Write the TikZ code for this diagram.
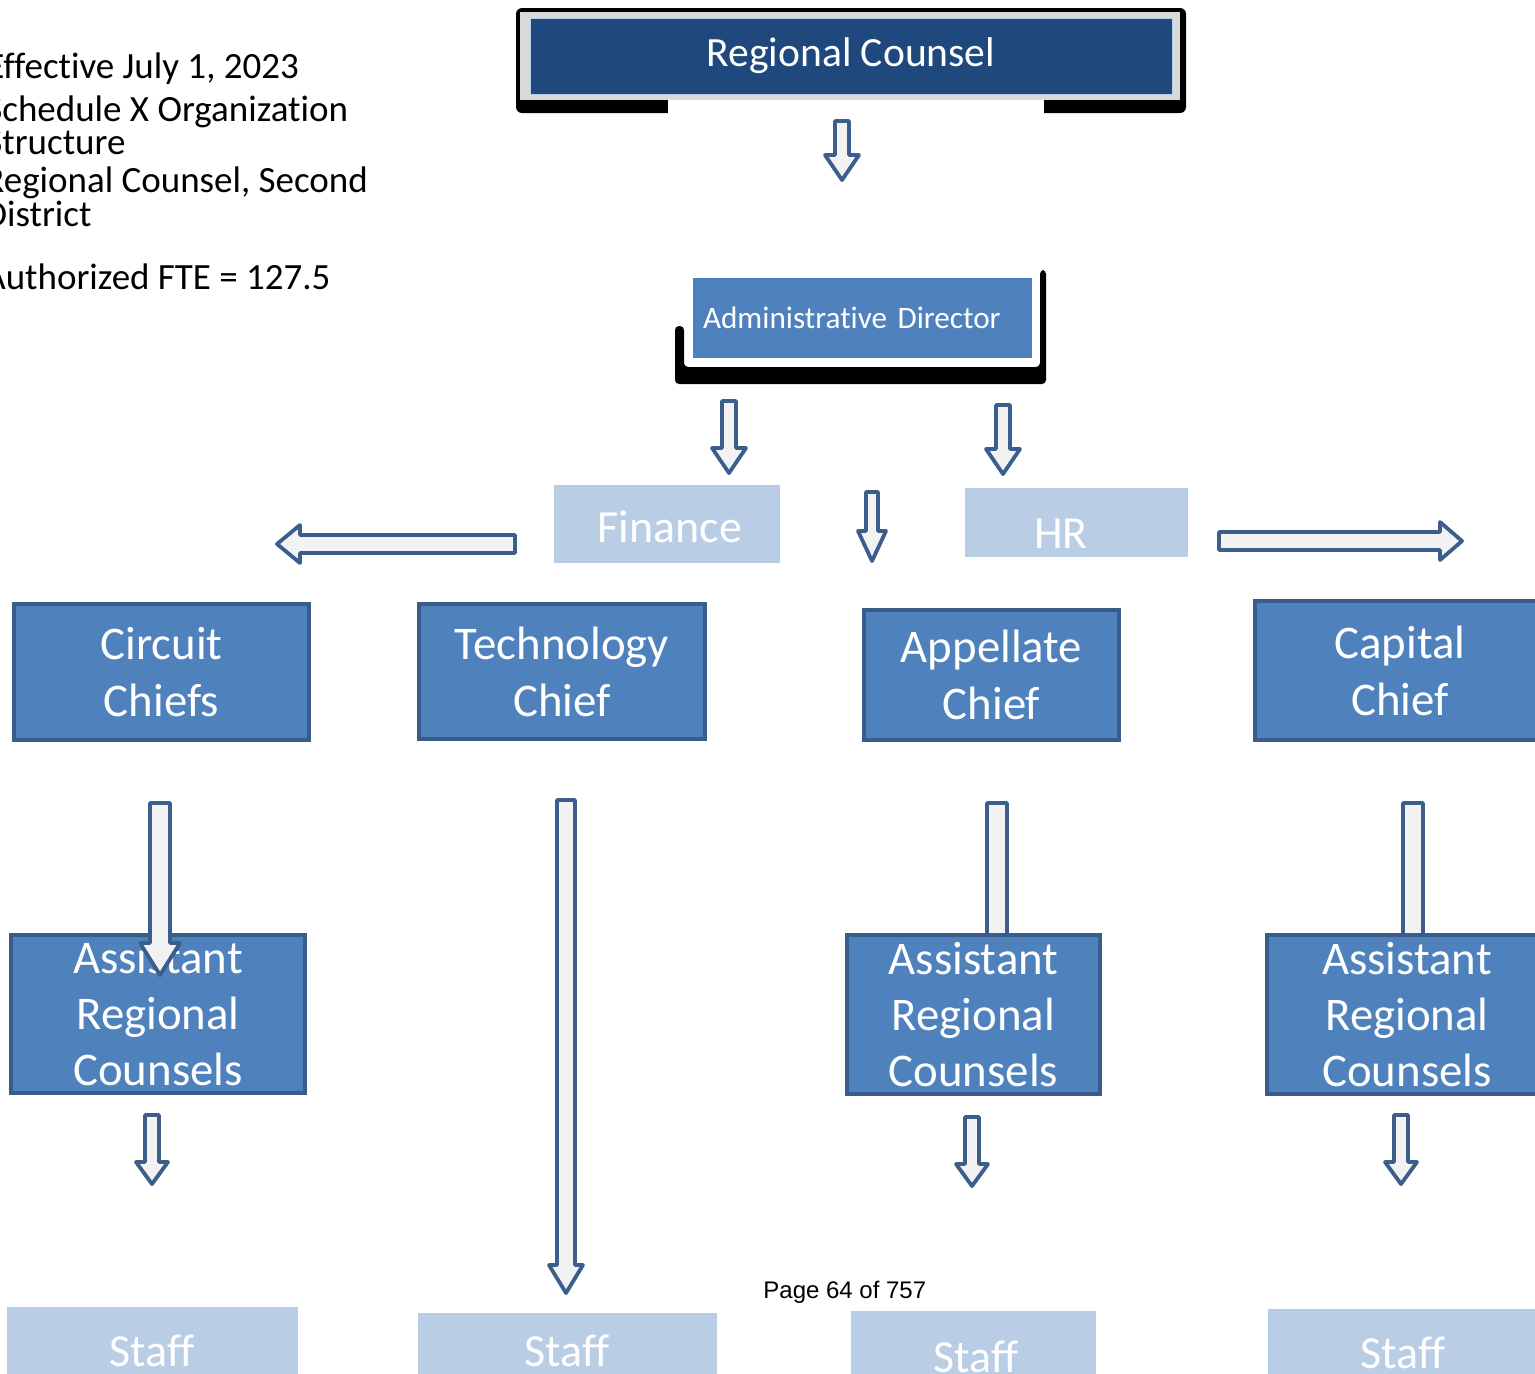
\documentclass[tikz,border=0pt]{standalone}
\usepackage{fontspec}
\setmainfont{Carlito}[Ligatures=NoCommon]
\newfontfamily\pagefont{Liberation Sans}

\definecolor{navy}{HTML}{1F497D}
\definecolor{midblue}{HTML}{4F81BD}
\definecolor{edgeblue}{HTML}{385D8A}
\definecolor{paleblue}{HTML}{B9CDE5}
\definecolor{framegray}{HTML}{D9D9D9}
\definecolor{arrowfill}{HTML}{F2F2F2}
\definecolor{arrowedge}{HTML}{3B5E8C}

\tikzset{
  chiefbox/.style={draw=edgeblue, line width=2pt, fill=midblue, text=white,
    align=center, inner sep=0pt, font=\fontsize{23.4}{28.5}\selectfont},
  lightbox/.style={fill=paleblue, inner sep=0pt},
  lighttext/.style={text=white, anchor=base, inner sep=0pt, font=\fontsize{23}{28}\selectfont},
  blockarrow/.style={draw=arrowedge, fill=arrowfill, line width=1.9pt, line join=round},
  notetext/.style={anchor=base west, inner sep=0pt, font=\fontsize{18.5}{22}\selectfont},
}

% vertical block arrow: x, tail y, tip y, shaft half-width, head half-width, head length
\newcommand{\blockdown}[6]{%
  \draw[blockarrow] ({#1-#4},{#2}) -- ({#1+#4},{#2}) -- ({#1+#4},{#3-#6})
    -- ({#1+#5},{#3-#6}) -- ({#1},{#3}) -- ({#1-#5},{#3-#6})
    -- ({#1-#4},{#3-#6}) -- cycle;}
% horizontal block arrow: y, tail x, tip x, shaft half-height, head half-height, signed head length
\newcommand{\blockside}[6]{%
  \draw[blockarrow] ({#2},{#1-#4}) -- ({#3-(#6)},{#1-#4}) -- ({#3-(#6)},{#1-#5})
    -- ({#3},{#1}) -- ({#3-(#6)},{#1+#5}) -- ({#3-(#6)},{#1+#4})
    -- ({#2},{#1+#4}) -- cycle;}

\begin{document}
\begin{tikzpicture}[x=0.5pt, y=-0.5pt]
\useasboundingbox (0,0) rectangle (1535,1373);
\clip (0,0) rectangle (1535,1373);

% heading notes
\node[notetext] (n1) at (-14,78)  {Effective July 1, 2023};
\node[notetext] (n2) at (-15,121) {Schedule X Organization};
\node[notetext] (n3) at (-15,154) {Structure};
\node[notetext] (n4) at (-16,192) {Regional Counsel, Second};
\node[notetext] (n5) at (-16,226) {District};
\node[notetext] (n6) at (-16,289) {Authorized FTE = 127.5};

% Regional Counsel with its framed shadow
\fill[black, rounded corners=3pt] (516,8) rectangle (1186,113);
\fill[framegray] (520,12) rectangle (1180,100);
\fill[white] (668,100) rectangle (1044,114);
\node[draw=paleblue, line width=0.5pt, fill=navy, text=white, inner sep=0pt,
      minimum width=321pt, minimum height=38pt,
      font=\fontsize{20.8}{25}\selectfont] (rc) at (851,56) {Regional Counsel};

\blockdown{842}{121}{180}{7}{17}{25}

% Administrative Director with its L-shaped shadow
\fill[black, rounded corners=2pt] (675,326) -- (684,326) -- (684,367) -- (1040,367)
  -- (1040,270) -- (1046,270) -- (1046,384) -- (675,384) -- cycle;
\node[draw=white, line width=0.5pt, fill=midblue, text=white, inner xsep=5.5pt,
      minimum height=40.5pt, text width=159pt, align=left,
      font=\fontsize{15.6}{19}\selectfont] (ad) at (862,318) {Administrative Director};

\blockdown{729}{401}{473}{7}{17}{25}
\blockdown{1003}{405}{474}{7}{17}{25}

% support units
\node[lightbox, minimum width=113pt, minimum height=39pt] (fin) at (667,524) {};
\node[lighttext] (finlabel) at (670,542) {Finance};
\node[lightbox, minimum width=111.5pt, minimum height=34.5pt] (hr) at (1076.5,522.5) {};
\node[lighttext] (hrlabel) at (1061,548) {HR};

\blockdown{872}{492}{561}{6}{14}{30}
\blockside{544}{515}{277}{9}{19}{-23}
\blockside{541}{1219}{1462}{9}{19}{22}

% chiefs
\node[chiefbox, minimum width=147.5pt, minimum height=68pt] (circ) at (161.5,672) {Circuit\\Chiefs};
\node[chiefbox, minimum width=143pt, minimum height=67.5pt] (tech) at (562,671.5) {Technology\\Chief};
\node[chiefbox, minimum width=127.5pt, minimum height=65pt] (appe) at (991.5,675) {Appellate\\Chief};
\node[chiefbox, minimum width=145pt, minimum height=69.5pt] (capi) at (1400,670.5) {Capital\\Chief};

% long arrows running behind the lower boxes
\blockdown{997}{803}{1000}{10}{20}{30}
\blockdown{1413}{803}{1000}{10}{20}{30}
\blockdown{566}{800}{1293}{9}{17}{28}

% assistant regional counsels
\node[chiefbox, minimum width=147pt, minimum height=79pt, font=\fontsize{23.4}{28}\selectfont] (arc1) at (158,1014) {Assistant\\Regional\\Counsels};
\node[chiefbox, minimum width=126.5pt, minimum height=79.5pt, font=\fontsize{23.4}{28}\selectfont] (arc2) at (973.5,1014.5) {Assistant\\Regional\\Counsels};
\node[chiefbox, minimum width=140pt, minimum height=79.5pt, font=\fontsize{23.4}{28}\selectfont] (arc3) at (1407,1014.5) {Assistant\\Regional\\Counsels};

% this one sits over its box
\blockdown{160}{803}{975}{10}{20}{32}

\blockdown{152}{1115}{1184}{7}{16}{22}
\blockdown{972}{1117}{1186}{7}{16}{22}
\blockdown{1401}{1115}{1184}{7}{16}{22}

\node[anchor=base west, inner sep=0pt, font=\pagefont\fontsize{12}{14}\selectfont] (pg) at (763,1298) {Page 64 of 757};

% staff
\node[lightbox, minimum width=145.5pt, minimum height=45pt] (s1) at (152.5,1352) {};
\node[lighttext] (s1label) at (152,1366) {Staff};
\node[lightbox, minimum width=149.5pt, minimum height=45pt] (s2) at (567.5,1358) {};
\node[lighttext] (s2label) at (567,1366) {Staff};
\node[lightbox, minimum width=122.5pt, minimum height=45pt] (s3) at (973.5,1356) {};
\node[lighttext] (s3label) at (976,1372) {Staff};
\node[lightbox, minimum width=140pt, minimum height=45pt] (s4) at (1408,1354) {};
\node[lighttext] (s4label) at (1403,1368) {Staff};
\end{tikzpicture}
\end{document}
